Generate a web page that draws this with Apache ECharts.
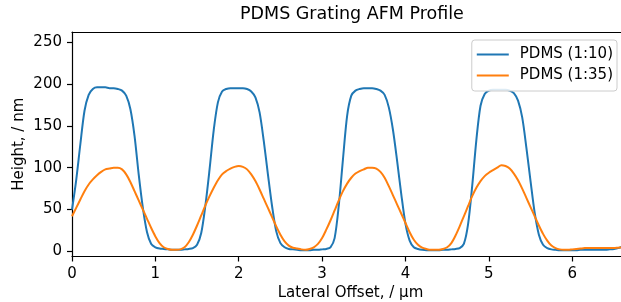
<!DOCTYPE html>
<html>
<head>
<meta charset="utf-8">
<script src="https://cdn.jsdelivr.net/npm/echarts@6/dist/echarts.min.js"></script>
<style>
html,body{margin:0;padding:0;background:#fff;}
#chart{width:621px;height:302px;}
</style>
</head>
<body>
<div id="chart"></div>
<script>
// Lateral offset positions (µm)
const xOffsets = [0.00,0.05,0.10,0.15,0.20,0.25,0.30,0.35,0.40,0.45,0.50,0.55,0.60,0.65,0.70,0.75,0.80,0.85,0.90,0.95,
1.00,1.05,1.10,1.15,1.20,1.25,1.30,1.35,1.40,1.45,1.50,1.55,1.60,1.65,1.70,1.75,1.80,1.85,1.90,1.95,
2.00,2.05,2.10,2.15,2.20,2.25,2.30,2.35,2.40,2.45,2.50,2.55,2.60,2.65,2.70,2.75,2.80,2.85,2.90,2.95,
3.00,3.05,3.10,3.15,3.20,3.25,3.30,3.35,3.40,3.45,3.50,3.55,3.60,3.65,3.70,3.75,3.80,3.85,3.90,3.95,
4.00,4.05,4.10,4.15,4.20,4.25,4.30,4.35,4.40,4.45,4.50,4.55,4.60,4.65,4.70,4.75,4.80,4.85,4.90,4.95,
5.00,5.05,5.10,5.15,5.20,5.25,5.30,5.35,5.40,5.45,5.50,5.55,5.60,5.65,5.70,5.75,5.80,5.85,5.90,5.95,
6.00,6.05,6.10,6.15,6.20,6.25,6.30,6.35,6.40,6.45,6.50,6.55,6.60,6.65];

// PDMS (1:10) heights (nm)
const pdms110 = [50,85,128,168,187,194,196,196,196,195,195,194,192,186,170,138,92,52,23,9,
5,3.5,3,2.5,2,2,2,2.5,3,4,8,22,55,98,145,178,191,194,195,195,
195,195,194,191,184,166,132,92,54,24,10,5,3,2.5,2,1.5,1.5,1.5,2,2,
2.5,3,5,16,55,110,162,186,192,194,195,195,195,194,192,187,172,145,108,68,
33,13,5,3,2,1.5,1.5,1.5,1.5,2,2,2.5,3,4,9,32,78,133,174,188,
192,193,193,193,193,192,189,180,160,124,84,46,20,8,4,2.5,2,1.5,1.5,1.5,
1.5,1.5,2,2,2,2,2,2,2,2.5,3,4,6,9];

// PDMS (1:35) heights (nm)
const pdms135 = [42,52,62,72,80,86,91,95,98,99,100,100,98,92,83,72,61,50,39,28,
18,10,5,3,2,2,2.5,5,11,20,31,43,55,66,76,85,92,96,99,101,
102,101,98,92,84,74,63,52,41,30,20,12,7,4.5,3.5,2.5,2,3,5,9,
16,26,37,49,61,72,81,88,93,96,98,100,100,99,95,88,78,67,56,45,
34,23,14,8,4.5,3,2,2,2,3,5,10,19,30,42,54,66,76,84,90,
94,97,100,103,102,99,93,85,75,64,53,42,31,21,13,7,4,2.5,2,2,
2.5,3,3.5,4,4,4,4,4,4,4,4,4.5,5,6];

const seriesNames = ['PDMS (1:10)', 'PDMS (1:35)'];
const xTicks = [0,1,2,3,4,5,6];
const yTicks = [0,50,100,150,200,250];

const FONT = 'DejaVu Sans';
const chart = echarts.init(document.getElementById('chart'), null, {renderer: 'canvas'});

function pairs(xs, ys) { return xs.map((x, i) => [x, ys[i]]); }

const axisLineStyle = {color: '#000', width: 1.2};

chart.setOption({
  animation: false,
  backgroundColor: '#fff',
  title: {
    text: 'PDMS Grating AFM Profile',
    left: 240, top: 5, padding: 0,
    textStyle: {fontFamily: FONT, fontSize: 17.5, fontWeight: 'normal', color: '#000'}
  },
  grid: {left: 72, right: 0, top: 32, bottom: 45.5, containLabel: false, outerBoundsMode: 'none'},
  legend: {
    data: seriesNames,
    orient: 'vertical',
    right: 4, top: 40,
    align: 'left',
    icon: 'rect',
    itemWidth: 32, itemHeight: 2,
    itemGap: 4,
    padding: [6, 4, 7, 5],
    borderColor: '#cccccc', borderWidth: 1, borderRadius: 3,
    backgroundColor: 'rgba(255,255,255,0.85)',
    textStyle: {fontFamily: FONT, fontSize: 15, color: '#000', lineHeight: 17, padding: [0, 0, 0, 6]}
  },
  xAxis: [{
    type: 'value', min: 0, max: 6.585,
    name: 'Lateral Offset, / µm', nameLocation: 'middle', nameGap: 29, nameMoveOverlap: false,
    nameTextStyle: {fontFamily: FONT, fontSize: 15, color: '#000', padding: [0, 0, 0, 8]},
    axisLine: {show: true, onZero: false, lineStyle: axisLineStyle},
    axisTick: {show: true, length: 5, inside: false, customValues: xTicks, lineStyle: {color: '#000', width: 1.2}},
    axisLabel: {show: true, margin: 10, customValues: xTicks, fontFamily: FONT, fontSize: 15, color: '#000'},
    splitLine: {show: false}
  }, {
    type: 'value', position: 'top', min: 0, max: 6.585,
    axisLine: {show: true, onZero: false, lineStyle: axisLineStyle},
    axisTick: {show: false}, axisLabel: {show: false}, splitLine: {show: false}
  }],
  yAxis: [{
    type: 'value', min: -6, max: 262,
    name: 'Height, / nm', nameLocation: 'middle', nameGap: 45, nameMoveOverlap: false,
    nameTextStyle: {fontFamily: FONT, fontSize: 15, color: '#000'},
    axisLine: {show: true, onZero: false, lineStyle: axisLineStyle},
    axisTick: {show: true, length: 5, inside: false, customValues: yTicks, lineStyle: {color: '#000', width: 1.2}},
    axisLabel: {show: true, margin: 10, customValues: yTicks, fontFamily: FONT, fontSize: 15, color: '#000'},
    splitLine: {show: false}
  }],
  series: [{
    name: seriesNames[0], type: 'line', xAxisIndex: 0, yAxisIndex: 0,
    data: pairs(xOffsets, pdms110),
    showSymbol: false, symbol: 'none', smooth: 0.3,
    lineStyle: {color: '#1f77b4', width: 2},
    itemStyle: {color: '#1f77b4'}
  }, {
    name: seriesNames[1], type: 'line', xAxisIndex: 0, yAxisIndex: 0,
    data: pairs(xOffsets, pdms135),
    showSymbol: false, symbol: 'none', smooth: 0.3,
    lineStyle: {color: '#ff7f0e', width: 2},
    itemStyle: {color: '#ff7f0e'}
  }]
});
</script>
</body>
</html>
